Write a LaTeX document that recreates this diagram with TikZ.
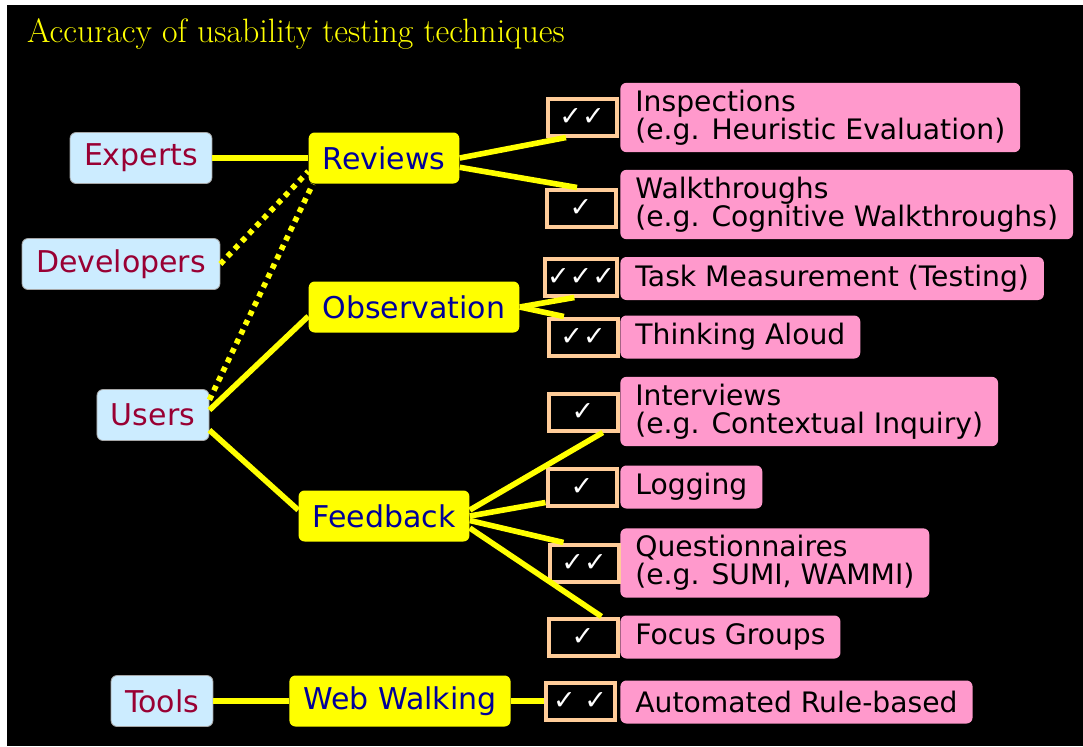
\documentclass[tikz,border=0pt]{standalone}
\usepackage{fontspec}
\newfontfamily\comic{DejaVu Sans}
\definecolor{whoblue}{RGB}{204,236,255}
\definecolor{whored}{RGB}{153,0,51}
\definecolor{howblue}{RGB}{0,0,153}
\definecolor{peach}{RGB}{255,204,153}
\definecolor{pinkbox}{RGB}{255,153,204}
\definecolor{hilite}{RGB}{255,255,0}
\begin{document}
\begin{tikzpicture}[x=.5pt,y=-.5pt,
	who/.style={fill=whoblue,draw=gray!70,rounded corners=3pt,text=whored,font=\comic\fontsize{15}{15}\selectfont,minimum height=25.5pt,inner xsep=7pt},
	how/.style={fill=hilite,rounded corners=3pt,text=howblue,font=\comic\fontsize{15}{15}\selectfont,minimum height=25.5pt,inner xsep=7pt},
	tick/.style={draw=peach,line width=2pt,fill=black,text=white,minimum width=34.5pt,minimum height=18.5pt,inner xsep=1pt,font=\comic\fontsize{13.5}{13.5}\selectfont},
	what/.style={fill=pinkbox,rounded corners=3pt,anchor=west,align=left,font=\comic\fontsize{14.1}{14}\selectfont,inner xsep=7.5pt,inner ysep=3.5pt,minimum height=21.5pt},
	link/.style={hilite,line width=2.8pt},
	maybe/.style={link,dash pattern=on 2.6pt off 2.6pt}]
	\useasboundingbox (0,0) rectangle (1083,746);
	\fill[white] (0,0) rectangle (1083,746);
	\fill[black] (7,5) rectangle (1083,746);
	\node[anchor=west,text=hilite,font=\fontsize{16.9}{19}\selectfont] (title) at (20,34) {Accuracy of usability testing techniques};
	\node[who] (experts) at (141,158) {Experts};
	\node[who] (developers) at (121,264) {Developers};
	\node[who] (users) at (153,415) {Users};
	\node[who] (tools) at (162,701) {Tools};
	\node[how] (reviews) at (384,158) {Reviews};
	\node[how] (observation) at (414,307) {Observation};
	\node[how] (feedback) at (384,516) {Feedback};
	\node[how] (webwalking) at (400,701) {Web Walking};
	\node[what] (inspections) at (620,117.5) {Inspections\\(e.g. Heuristic Evaluation)};
	\node[what] (walkthroughs) at (620,204.5) {Walkthroughs\\(e.g. Cognitive Walkthroughs)};
	\node[what] (task) at (620,278.5) {Task Measurement (Testing)};
	\node[what] (aloud) at (620,337) {Thinking Aloud};
	\node[what] (interviews) at (620,411.5) {Interviews\\(e.g. Contextual Inquiry)};
	\node[what] (logging) at (620,487) {Logging};
	\node[what] (questionnaires) at (620,563) {Questionnaires\\(e.g. SUMI, WAMMI)};
	\node[what] (focus) at (620,637) {Focus Groups};
	\node[what] (automated) at (620,702) {Automated Rule-based};
	\node[tick] (c1) at (582,117) {✓✓};
	\node[tick] (c2) at (581,208) {✓};
	\node[tick] (c3) at (581,277) {✓✓✓};
	\node[tick] (c4) at (583,337) {✓✓};
	\node[tick] (c5) at (583,412) {✓};
	\node[tick] (c6) at (582,487) {✓};
	\node[tick] (c7) at (584,563) {✓✓};
	\node[tick] (c8) at (583,637) {✓};
	\node[tick] (c9) at (580,701) {✓ ✓};
	\draw[link] (experts.east)--(reviews.west);
	\draw[maybe] (developers.east)--(reviews.190);
	\draw[maybe] (users.15)--(reviews.200);
	\draw[link] (users.5)--(observation.185);
	\draw[link] (users.345)--(feedback.176);
	\draw[link] (tools.east)--(webwalking.west);
	\draw[link] (reviews.east)--(c1.232);
	\draw[link] (reviews.353)--(c2.101);
	\draw[link] (observation.east)--(c3.252);
	\draw[link] (observation.east)--(c4.133);
	\draw[link] (feedback.4)--(c5.314);
	\draw[link] (feedback.east)--(c6.203);
	\draw[link] (feedback.357)--(c7.135);
	\draw[link] (feedback.352)--(c8.48);
	\draw[link] (webwalking.east)--(c9.west);
\end{tikzpicture}
\end{document}
